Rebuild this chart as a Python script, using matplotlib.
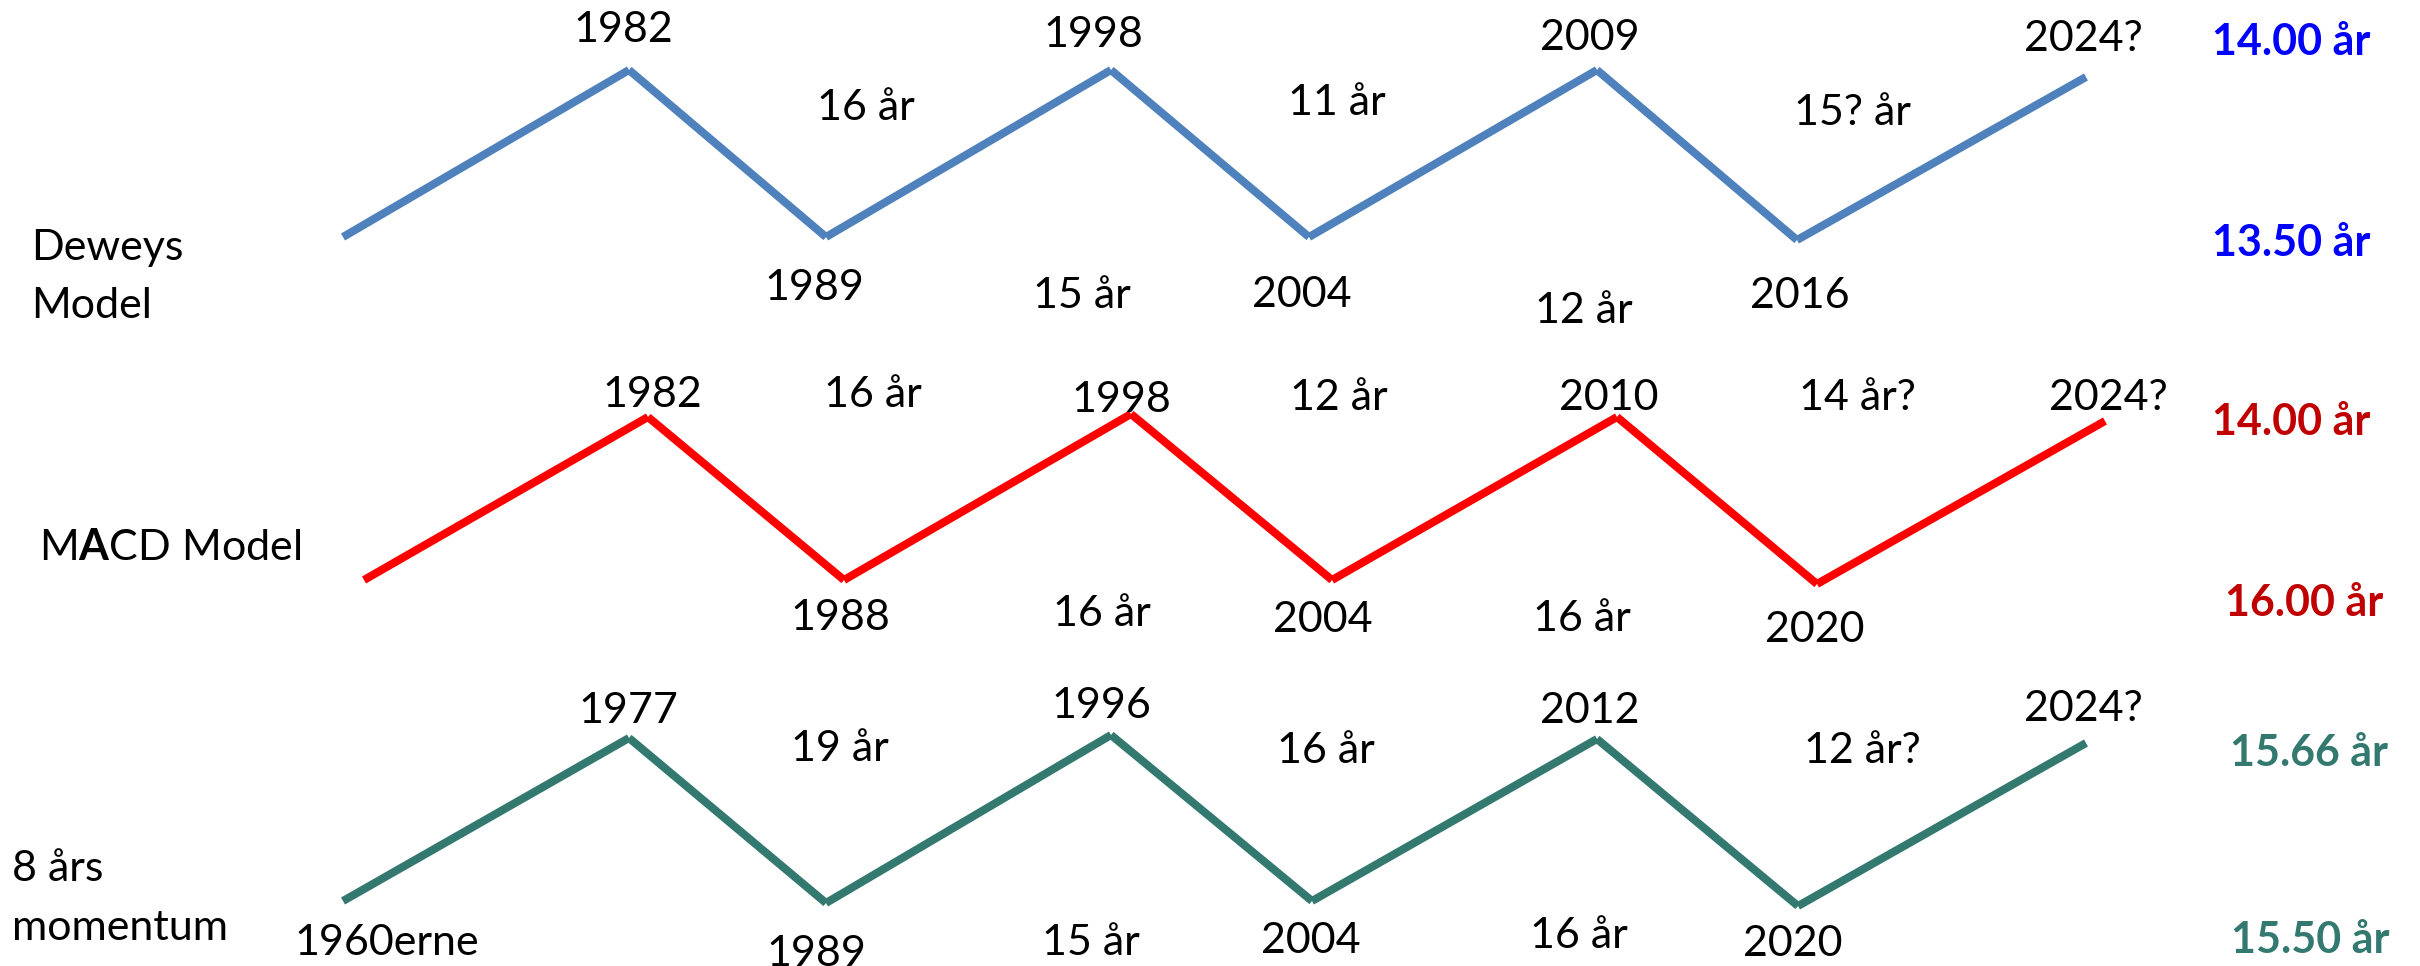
import matplotlib
matplotlib.use("Agg")
import matplotlib.pyplot as plt

plt.rcParams['font.family'] = ['Lato', 'DejaVu Sans']
plt.rcParams['mathtext.fontset'] = 'custom'
plt.rcParams['mathtext.rm'] = 'Lato'
plt.rcParams['mathtext.bf'] = 'Lato:bold'

# ---------------- data ----------------
# turning points of each model (schematic positions)
dewey_x = [343, 629, 826, 1111, 1309, 1597, 1797, 2086]
dewey_y = [237, 70, 237, 70, 237, 70, 240, 77]
macd_x = [364, 648, 844, 1131, 1332, 1617, 1817, 2105]
macd_y = [580, 417, 580, 414, 580, 417, 584, 421]
mom_x = [343, 629, 826, 1111, 1312, 1597, 1798, 2086]
mom_y = [901, 738, 903, 735, 901, 739, 906, 743]

# labels
dewey_peaks = ["1982", "1998", "2009", "2024?"]
dewey_troughs = ["1989", "2004", "2016"]
dewey_up_cycles = ["16 år", "11 år", "15? år"]
dewey_low_cycles = ["15 år", "12 år"]
dewey_avgs = ["14.00 år", "13.50 år"]

macd_peaks = ["1982", "1998", "2010", "2024?"]
macd_troughs = ["1988", "2004", "2020"]
macd_up_cycles = ["16 år", "12 år", "14 år?"]
macd_low_cycles = ["16 år", "16 år"]
macd_avgs = ["14.00 år", "16.00 år"]

mom_peaks = ["1977", "1996", "2012", "2024?"]
mom_troughs = ["1960erne", "1989", "2004", "2020"]
mom_up_cycles = ["19 år", "16 år", "12 år?"]
mom_low_cycles = ["15 år", "16 år"]
mom_avgs = ["15.66 år", "15.50 år"]

# ---------------- label placement ----------------
dewey_peaks_pos = ([623, 1093, 1590, 2083], [42, 47, 50, 51])
dewey_troughs_pos = ([814, 1302, 1800], [300, 307, 308])
dewey_up_pos = ([866, 1337, 1852], [120, 115, 125])
dewey_low_pos = ([1082, 1584], [308, 323])
dewey_avg_pos = ([2291, 2291], [55, 256])

macd_peaks_pos = ([652, 1121, 1609, 2108], [407, 412, 410, 410])
macd_troughs_pos = ([840, 1323, 1815], [630, 632, 642])
macd_up_pos = ([873, 1339, 1857], [407, 410, 410])
macd_low_pos = ([1102, 1582], [626, 631])
macd_avg_pos = ([2291, 2304], [435, 616])

mom_peaks_pos = ([628, 1101, 1590, 2083], [723, 718, 723, 721])
mom_troughs_pos = ([387, 816, 1311, 1793], [955, 966, 953, 956])
mom_up_pos = ([840, 1326, 1862], [761, 763, 763])
mom_low_pos = ([1091, 1579], [955, 948])
mom_avg_pos = ([2309, 2310], [766, 953])

BLUE_LINE = "#4F81BD"
RED_LINE = "#FF0000"
TEAL_LINE = "#33796F"
BLUE_TXT = "#0000FF"
RED_TXT = "#C00000"
TEAL_TXT = "#33796F"

FS = 31
LW = 5.8

fig = plt.figure(figsize=(24.2, 9.66), dpi=100)
ax = fig.add_axes([0, 0, 1, 1])
ax.set_xlim(0, 2420)
ax.set_ylim(966, 0)
ax.axis("off")


def zigzag(xs, ys, color):
    for i in range(len(xs) - 1):
        ax.plot(xs[i:i + 2], ys[i:i + 2], color=color, lw=LW,
                solid_capstyle="butt", solid_joinstyle="miter")


def put(texts, pos, color="black", weight="normal"):
    for t, x, y in zip(texts, pos[0], pos[1]):
        ax.text(x, y, t, ha="center", va="baseline", fontsize=FS,
                color=color, fontweight=weight)


zigzag(dewey_x, dewey_y, BLUE_LINE)
zigzag(macd_x, macd_y, RED_LINE)
zigzag(mom_x, mom_y, TEAL_LINE)

for texts, pos in [(dewey_peaks, dewey_peaks_pos), (dewey_troughs, dewey_troughs_pos),
                   (dewey_up_cycles, dewey_up_pos), (dewey_low_cycles, dewey_low_pos),
                   (macd_peaks, macd_peaks_pos), (macd_troughs, macd_troughs_pos),
                   (macd_up_cycles, macd_up_pos), (macd_low_cycles, macd_low_pos),
                   (mom_peaks, mom_peaks_pos), (mom_troughs, mom_troughs_pos),
                   (mom_up_cycles, mom_up_pos), (mom_low_cycles, mom_low_pos)]:
    put(texts, pos)

put(dewey_avgs, dewey_avg_pos, BLUE_TXT, "bold")
put(macd_avgs, macd_avg_pos, RED_TXT, "bold")
put(mom_avgs, mom_avg_pos, TEAL_TXT, "bold")

# row titles
ax.text(31, 260, "Deweys", ha="left", va="baseline", fontsize=FS)
ax.text(31, 318, "Model", ha="left", va="baseline", fontsize=FS)
ax.text(39, 560, r"M$\mathbf{A}$CD Model", ha="left", va="baseline", fontsize=FS)
ax.text(12, 881, "8 års", ha="left", va="baseline", fontsize=FS)
ax.text(12, 940, "momentum", ha="left", va="baseline", fontsize=FS)

fig.savefig("out.png", dpi=100, facecolor="white")
